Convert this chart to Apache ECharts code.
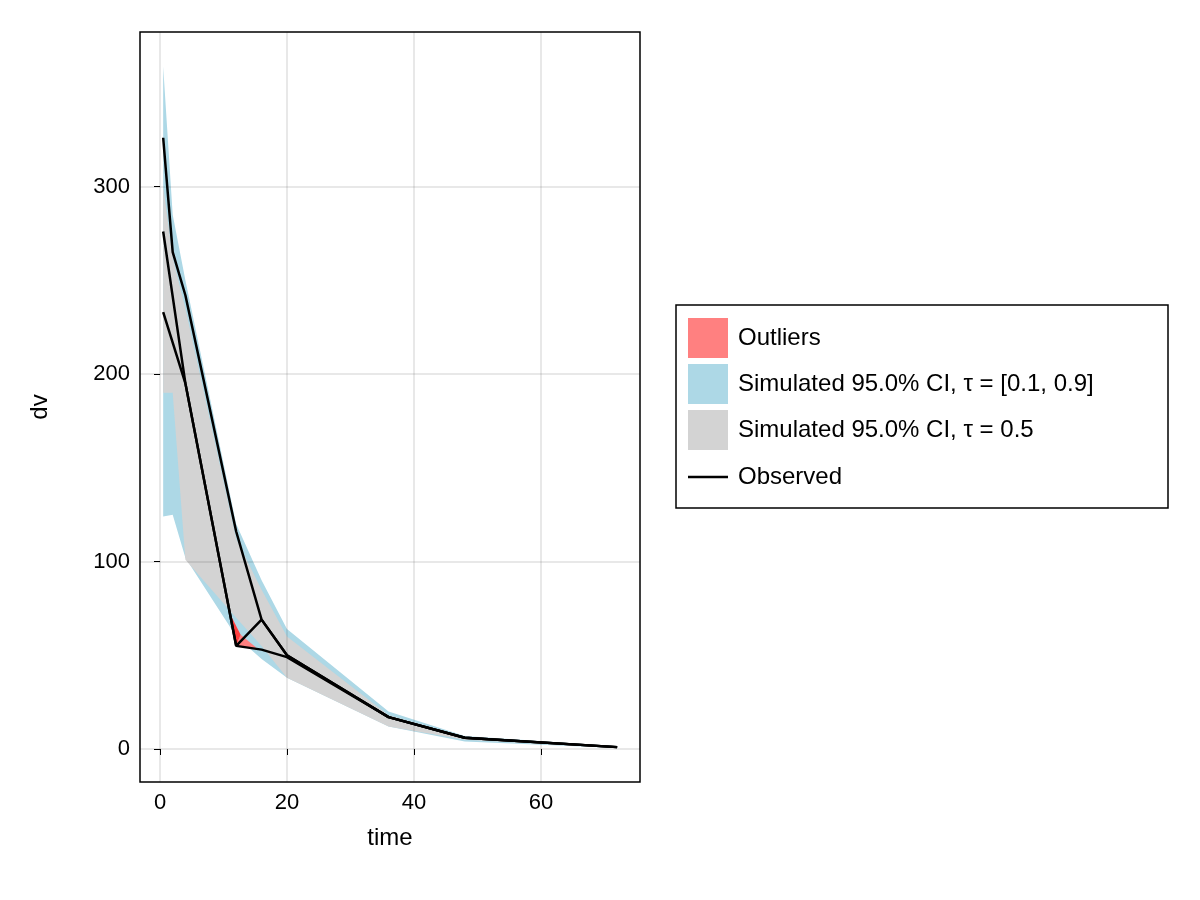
<!DOCTYPE html>
<html><head><meta charset="utf-8">
<script src="https://cdn.jsdelivr.net/npm/echarts@6/dist/echarts.min.js"></script>
<style>html,body{margin:0;background:#fff}#c{width:1200px;height:900px}</style>
</head><body><div id="c"></div>
<script>
const times = [0.5, 2, 4, 12, 16, 20, 36, 48, 72];
// blue band for tau = 0.9
const blueHiUpper = [364, 285, 250, 120, 90, 64, 20, 7, 1.5];
const blueHiLower = [250, 225, 195, 90, 62, 50, 15, 5, 1];
// blue band for tau = 0.1
const blueLoUpper = [250, 225, 195, 80, 60, 48, 16, 5.5, 1];
const blueLoLower = [124, 125, 102, 60, 48, 38, 12, 4, 0.5];
// gray band for tau = 0.5
const grayUpper = [300, 262, 235, 112, 85, 60, 18, 6.5, 1.2];
const grayLower = [190, 190, 101, 70, 55, 38, 12, 5, 0.5];
// outlier regions [time, dv]
const outlierA = [[10.9, 73], [12, 55], [12.7, 61]];
const outlierB = [[12, 55], [12.7, 61], [15.2, 54], [13.5, 54]];
// observed quantile lines [time, dv]
const obsHigh = [[0.5, 326], [2, 265], [4, 242], [12, 116], [16, 69], [20, 50], [36, 17], [48, 6], [72, 1]];
const obsMid = [[0.5, 276], [4, 195], [12, 55], [16, 69], [20, 50], [36, 17], [48, 6], [72, 1]];
const obsLow = [[0.5, 233], [4, 195], [12, 55], [16, 53], [20, 49], [36, 17], [48, 6], [72, 1]];
const xTicks = [0, 20, 40, 60];
const yTicks = [0, 100, 200, 300];

function bandSeries(lo, hi, color) {
  return {
    type: 'custom', silent: true, z: 2,
    data: times.map((t, i) => [t, lo[i], hi[i]]),
    renderItem: (params, api) => {
      if (params.dataIndex !== 0) return;
      const pts = [];
      times.forEach((t, i) => pts.push(api.coord([t, hi[i]])));
      for (let i = times.length - 1; i >= 0; i--) pts.push(api.coord([times[i], lo[i]]));
      return { type: 'polygon', shape: { points: pts }, style: { fill: color } };
    }
  };
}
function polySeries(pts, color) {
  return {
    type: 'custom', silent: true, z: 3,
    data: pts,
    renderItem: (params, api) => {
      if (params.dataIndex !== 0) return;
      return { type: 'polygon', shape: { points: pts.map(p => api.coord(p)) }, style: { fill: color } };
    }
  };
}
function lineSeries(d) {
  return { type: 'line', data: d, symbol: 'none', z: 5, lineStyle: { color: '#000', width: 2.5 } };
}
const font = 'Liberation Sans, Arial, sans-serif';
const chart = echarts.init(document.getElementById('c'));
chart.setOption({
  animation: false,
  grid: { left: 140, top: 32, width: 500, height: 750, show: true, borderColor: '#000', borderWidth: 1.5, backgroundColor: 'transparent' },
  xAxis: {
    type: 'value', min: -3.15, max: 75.6, name: 'time', nameLocation: 'middle', nameGap: 44,
    nameTextStyle: { fontSize: 24, color: '#000', fontFamily: font },
    axisLine: { show: false },
    axisTick: { show: true, length: 6, lineStyle: { color: '#000' }, customValues: xTicks },
    axisLabel: { fontSize: 22, color: '#000', fontFamily: font, customValues: xTicks, margin: 10 },
    splitLine: { show: false }
  },
  yAxis: {
    type: 'value', min: -17.6, max: 382.4, name: 'dv', nameLocation: 'middle', nameGap: 88, nameRotate: 90,
    nameTextStyle: { fontSize: 24, color: '#000', fontFamily: font },
    axisLine: { show: false },
    axisTick: { show: true, length: 6, lineStyle: { color: '#000' }, customValues: yTicks },
    axisLabel: { fontSize: 22, color: '#000', fontFamily: font, customValues: yTicks, margin: 10 },
    splitLine: { show: false }
  },
  series: [
    {
      type: 'line', data: [], z: 1,
      markLine: {
        silent: true, symbol: 'none', label: { show: false },
        lineStyle: { color: 'rgba(0,0,0,0.12)', type: 'solid', width: 1.5 },
        data: xTicks.map(v => ({ xAxis: v })).concat(yTicks.map(v => ({ yAxis: v })))
      }
    },
    bandSeries(blueHiLower, blueHiUpper, '#add8e6'),
    bandSeries(blueLoLower, blueLoUpper, '#add8e6'),
    bandSeries(grayLower, grayUpper, '#d3d3d3'),
    polySeries(outlierB, '#ff8080'),
    polySeries(outlierA, '#ff4040'),
    lineSeries(obsHigh), lineSeries(obsMid), lineSeries(obsLow)
  ],
  graphic: [
    { type: 'rect', shape: { x: 676, y: 305, width: 492, height: 203 }, style: { fill: '#fff', stroke: '#000', lineWidth: 1.5 } },
    { type: 'rect', shape: { x: 688, y: 318, width: 40, height: 40 }, style: { fill: '#ff8080' } },
    { type: 'rect', shape: { x: 688, y: 364, width: 40, height: 40 }, style: { fill: '#add8e6' } },
    { type: 'rect', shape: { x: 688, y: 410, width: 40, height: 40 }, style: { fill: '#d3d3d3' } },
    { type: 'line', shape: { x1: 688, y1: 477, x2: 728, y2: 477 }, style: { stroke: '#000', lineWidth: 2.5 } },
    { type: 'text', x: 738, y: 338, style: { text: 'Outliers', font: '24px ' + font, fill: '#000', verticalAlign: 'middle' } },
    { type: 'text', x: 738, y: 384, style: { text: 'Simulated 95.0% CI, τ = [0.1, 0.9]', font: '24px ' + font, fill: '#000', verticalAlign: 'middle' } },
    { type: 'text', x: 738, y: 430, style: { text: 'Simulated 95.0% CI, τ = 0.5', font: '24px ' + font, fill: '#000', verticalAlign: 'middle' } },
    { type: 'text', x: 738, y: 477, style: { text: 'Observed', font: '24px ' + font, fill: '#000', verticalAlign: 'middle' } }
  ]
});
</script></body></html>
